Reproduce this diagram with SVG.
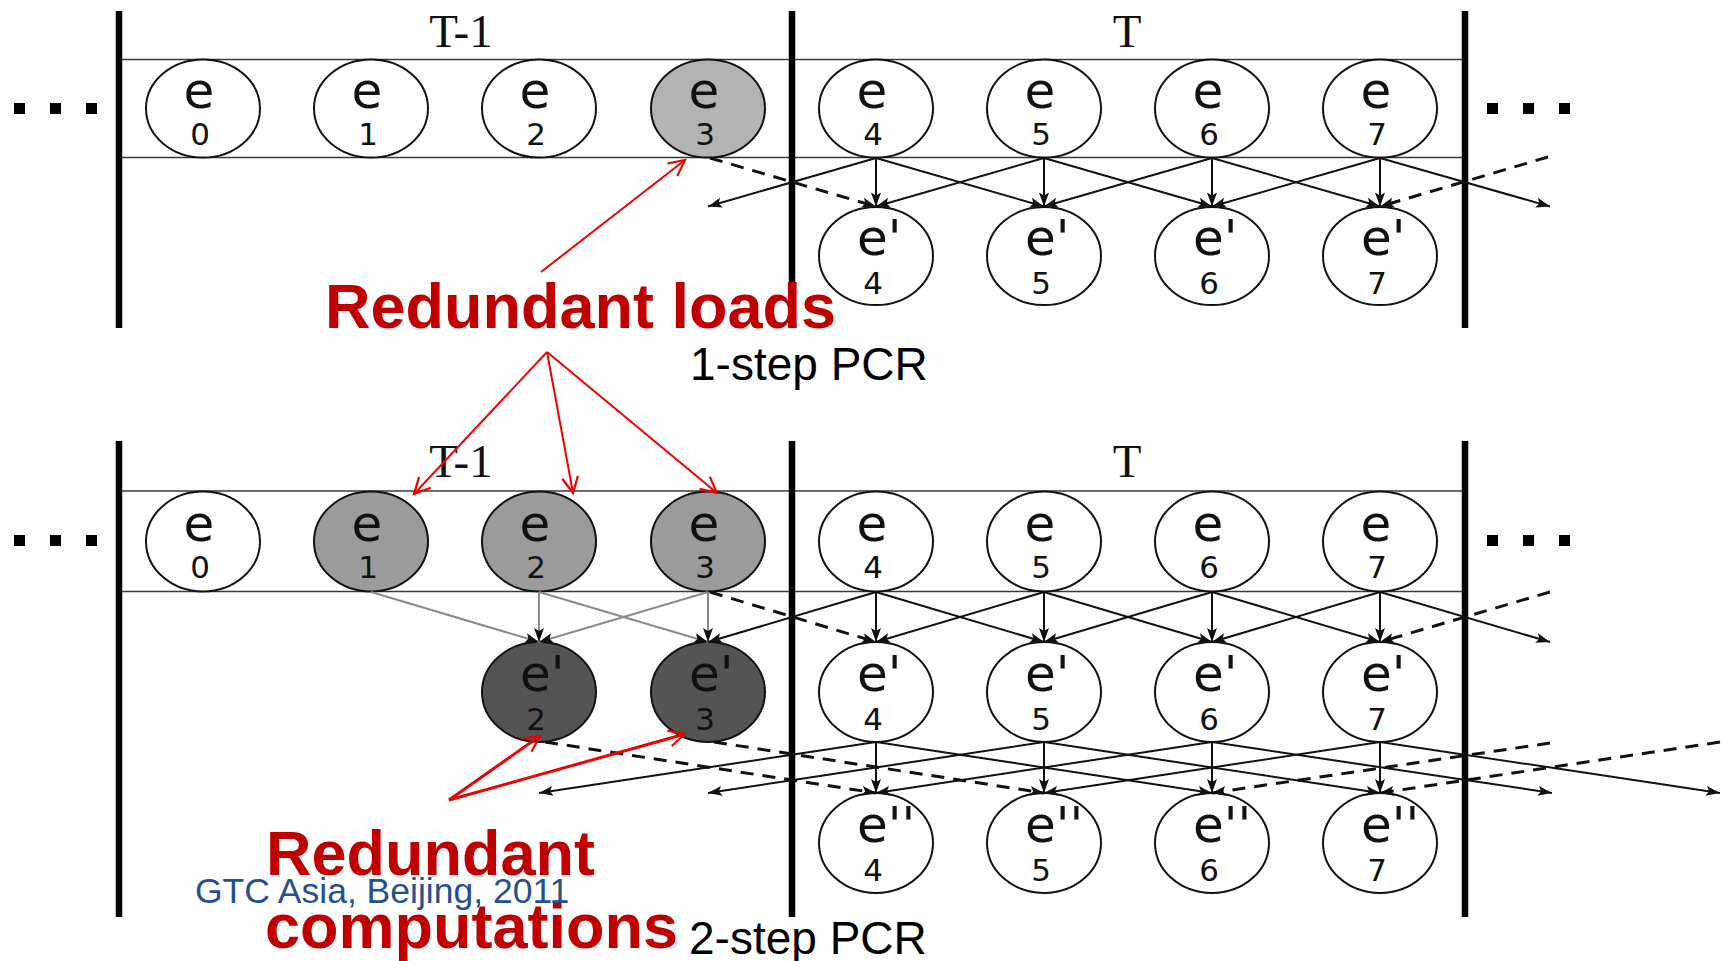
<svg xmlns="http://www.w3.org/2000/svg" width="1725" height="961" viewBox="0 0 1725 961">
  <defs>
    <style>
      .bar { stroke: #000; stroke-width: 6.5; }
      .rail { stroke: #3a3a3a; stroke-width: 1.6; }
      .node { stroke: #111; stroke-width: 2; fill: #fff; }
      .hot { fill: #b3b3b3; }
      .mid { fill: #9b9b9b; }
      .dark { fill: #545454; }
      .e { font-family: "DejaVu Sans", "Noto Sans", sans-serif; font-size: 50px; fill: #111; }
      .d { font-family: "DejaVu Sans", "Noto Sans", sans-serif; font-size: 31px; fill: #111; text-anchor: middle; }
      .hdr { font-family: "Liberation Serif", "DejaVu Serif", serif; font-size: 47px; fill: #111; text-anchor: middle; }
      .dots { fill: #000; }
      .solid { stroke: #111; stroke-width: 2; fill: none; marker-end: url(#tri); }
      .gray { stroke: #8a8a8a; stroke-width: 2; fill: none; marker-end: url(#tri); }
      .dash { stroke: #111; stroke-width: 3; stroke-dasharray: 13 9; fill: none; marker-end: url(#tri); }
      .red { stroke: #f00000; stroke-width: 2; fill: none; marker-end: url(#open); }
      .red3 { stroke: #f00000; stroke-width: 3; fill: none; marker-end: url(#open); }
      .big { font-family: "Liberation Sans", Arial, sans-serif; font-weight: bold; font-size: 63px; fill: #c00000; }
      .cap { font-family: "Liberation Sans", Arial, sans-serif; font-size: 46px; fill: #000; }
      .foot { font-family: "Liberation Sans", Arial, sans-serif; font-size: 35.5px; fill: #24508c; }
    </style>
    <marker id="tri" markerUnits="userSpaceOnUse" markerWidth="15" markerHeight="11" refX="14" refY="5" orient="auto" overflow="visible">
      <path d="M0,0 L14,5 L0,10 L3,5 z" fill="#111"/>
    </marker>
    <marker id="open" markerUnits="userSpaceOnUse" markerWidth="18" markerHeight="16" refX="16" refY="8" orient="auto" overflow="visible">
      <path d="M0,0 L16,8 L0,16" fill="none" stroke="#f00000" stroke-width="2.2"/>
    </marker>
  </defs>

  <rect width="1725" height="961" fill="#fff"/>

  <!-- ================= 1-step PCR panel ================= -->
  <g id="frame-1step">
    <line class="rail" x1="119" y1="59.5" x2="1465" y2="59.5"/>
    <line class="rail" x1="119" y1="157.5" x2="1465" y2="157.5"/>
    <line class="bar" x1="119" y1="11" x2="119" y2="328"/>
    <line class="bar" x1="792" y1="11" x2="792" y2="328"/>
    <line class="bar" x1="1465" y1="11" x2="1465" y2="328"/>
    <text class="hdr" x="461" y="47">T-1</text>
    <text class="hdr" x="1127" y="47">T</text>
    <g class="dots">
      <rect x="14" y="103" width="11" height="11"/>
      <rect x="50" y="103" width="11" height="11"/>
      <rect x="86" y="103" width="11" height="11"/>
      <rect x="1487" y="103" width="11" height="11"/>
      <rect x="1523" y="103" width="11" height="11"/>
      <rect x="1559" y="103" width="11" height="11"/>
    </g>
  </g>

  <g id="n1-e0"><ellipse class="node" cx="203" cy="108.5" rx="57" ry="49"/><text class="e" x="199" y="107.5" text-anchor="middle">e</text><text class="d" x="200" y="145">0</text></g>
  <g id="n1-e1"><ellipse class="node" cx="371" cy="108.5" rx="57" ry="49"/><text class="e" x="367" y="107.5" text-anchor="middle">e</text><text class="d" x="368" y="145">1</text></g>
  <g id="n1-e2"><ellipse class="node" cx="539" cy="108.5" rx="57" ry="49"/><text class="e" x="535" y="107.5" text-anchor="middle">e</text><text class="d" x="536" y="145">2</text></g>
  <g id="n1-e3"><ellipse class="node hot" cx="708" cy="108.5" rx="57" ry="49"/><text class="e" x="704" y="107.5" text-anchor="middle">e</text><text class="d" x="705" y="145">3</text></g>
  <g id="n1-e4"><ellipse class="node" cx="876" cy="108.5" rx="57" ry="49"/><text class="e" x="872" y="107.5" text-anchor="middle">e</text><text class="d" x="873" y="145">4</text></g>
  <g id="n1-e5"><ellipse class="node" cx="1044" cy="108.5" rx="57" ry="49"/><text class="e" x="1040" y="107.5" text-anchor="middle">e</text><text class="d" x="1041" y="145">5</text></g>
  <g id="n1-e6"><ellipse class="node" cx="1212" cy="108.5" rx="57" ry="49"/><text class="e" x="1208" y="107.5" text-anchor="middle">e</text><text class="d" x="1209" y="145">6</text></g>
  <g id="n1-e7"><ellipse class="node" cx="1380" cy="108.5" rx="57" ry="49"/><text class="e" x="1376" y="107.5" text-anchor="middle">e</text><text class="d" x="1377" y="145">7</text></g>

  <g id="n1-p4"><ellipse class="node" cx="876" cy="256" rx="57" ry="49"/><text class="e" x="857" y="255">e'</text><text class="d" x="873" y="294">4</text></g>
  <g id="n1-p5"><ellipse class="node" cx="1044" cy="256" rx="57" ry="49"/><text class="e" x="1025" y="255">e'</text><text class="d" x="1041" y="294">5</text></g>
  <g id="n1-p6"><ellipse class="node" cx="1212" cy="256" rx="57" ry="49"/><text class="e" x="1193" y="255">e'</text><text class="d" x="1209" y="294">6</text></g>
  <g id="n1-p7"><ellipse class="node" cx="1380" cy="256" rx="57" ry="49"/><text class="e" x="1361" y="255">e'</text><text class="d" x="1377" y="294">7</text></g>

  <!-- ================= 2-step PCR panel ================= -->
  <g id="frame-2step">
    <line class="rail" x1="119" y1="491" x2="1465" y2="491"/>
    <line class="rail" x1="119" y1="591.5" x2="1465" y2="591.5"/>
    <line class="bar" x1="119" y1="441" x2="119" y2="917"/>
    <line class="bar" x1="792" y1="441" x2="792" y2="917"/>
    <line class="bar" x1="1465" y1="441" x2="1465" y2="917"/>
    <text class="hdr" x="461" y="477">T-1</text>
    <text class="hdr" x="1127" y="477">T</text>
    <g class="dots">
      <rect x="14" y="535" width="11" height="11"/>
      <rect x="50" y="535" width="11" height="11"/>
      <rect x="86" y="535" width="11" height="11"/>
      <rect x="1487" y="535" width="11" height="11"/>
      <rect x="1523" y="535" width="11" height="11"/>
      <rect x="1559" y="535" width="11" height="11"/>
    </g>
  </g>

  <g id="n2-e0"><ellipse class="node" cx="203" cy="541.5" rx="57" ry="50"/><text class="e" x="199" y="540.5" text-anchor="middle">e</text><text class="d" x="200" y="578">0</text></g>
  <g id="n2-e1"><ellipse class="node mid" cx="371" cy="541.5" rx="57" ry="50"/><text class="e" x="367" y="540.5" text-anchor="middle">e</text><text class="d" x="368" y="578">1</text></g>
  <g id="n2-e2"><ellipse class="node mid" cx="539" cy="541.5" rx="57" ry="50"/><text class="e" x="535" y="540.5" text-anchor="middle">e</text><text class="d" x="536" y="578">2</text></g>
  <g id="n2-e3"><ellipse class="node mid" cx="708" cy="541.5" rx="57" ry="50"/><text class="e" x="704" y="540.5" text-anchor="middle">e</text><text class="d" x="705" y="578">3</text></g>
  <g id="n2-e4"><ellipse class="node" cx="876" cy="541.5" rx="57" ry="50"/><text class="e" x="872" y="540.5" text-anchor="middle">e</text><text class="d" x="873" y="578">4</text></g>
  <g id="n2-e5"><ellipse class="node" cx="1044" cy="541.5" rx="57" ry="50"/><text class="e" x="1040" y="540.5" text-anchor="middle">e</text><text class="d" x="1041" y="578">5</text></g>
  <g id="n2-e6"><ellipse class="node" cx="1212" cy="541.5" rx="57" ry="50"/><text class="e" x="1208" y="540.5" text-anchor="middle">e</text><text class="d" x="1209" y="578">6</text></g>
  <g id="n2-e7"><ellipse class="node" cx="1380" cy="541.5" rx="57" ry="50"/><text class="e" x="1376" y="540.5" text-anchor="middle">e</text><text class="d" x="1377" y="578">7</text></g>

  <g id="n2-p2"><ellipse class="node dark" cx="539" cy="692" rx="57" ry="50"/><text class="e" x="520" y="691">e'</text><text class="d" x="536" y="730">2</text></g>
  <g id="n2-p3"><ellipse class="node dark" cx="708" cy="692" rx="57" ry="50"/><text class="e" x="689" y="691">e'</text><text class="d" x="705" y="730">3</text></g>
  <g id="n2-p4"><ellipse class="node" cx="876" cy="692" rx="57" ry="50"/><text class="e" x="857" y="691">e'</text><text class="d" x="873" y="730">4</text></g>
  <g id="n2-p5"><ellipse class="node" cx="1044" cy="692" rx="57" ry="50"/><text class="e" x="1025" y="691">e'</text><text class="d" x="1041" y="730">5</text></g>
  <g id="n2-p6"><ellipse class="node" cx="1212" cy="692" rx="57" ry="50"/><text class="e" x="1193" y="691">e'</text><text class="d" x="1209" y="730">6</text></g>
  <g id="n2-p7"><ellipse class="node" cx="1380" cy="692" rx="57" ry="50"/><text class="e" x="1361" y="691">e'</text><text class="d" x="1377" y="730">7</text></g>

  <g id="n2-q4"><ellipse class="node" cx="876" cy="843" rx="57" ry="50"/><text class="e" x="857" y="842">e''</text><text class="d" x="873" y="881">4</text></g>
  <g id="n2-q5"><ellipse class="node" cx="1044" cy="843" rx="57" ry="50"/><text class="e" x="1025" y="842">e''</text><text class="d" x="1041" y="881">5</text></g>
  <g id="n2-q6"><ellipse class="node" cx="1212" cy="843" rx="57" ry="50"/><text class="e" x="1193" y="842">e''</text><text class="d" x="1209" y="881">6</text></g>
  <g id="n2-q7"><ellipse class="node" cx="1380" cy="843" rx="57" ry="50"/><text class="e" x="1361" y="842">e''</text><text class="d" x="1377" y="881">7</text></g>

  <!-- ================= connectors ================= -->
  <g id="connectors">
    <!-- 1-step: e -> e' -->
    <line class="solid" x1="876" y1="158" x2="708" y2="206.5"/>
    <line class="solid" x1="876" y1="158" x2="876" y2="206.5"/>
    <line class="solid" x1="876" y1="158" x2="1044" y2="206.5"/>
    <line class="solid" x1="1044" y1="158" x2="876" y2="206.5"/>
    <line class="solid" x1="1044" y1="158" x2="1044" y2="206.5"/>
    <line class="solid" x1="1044" y1="158" x2="1212" y2="206.5"/>
    <line class="solid" x1="1212" y1="158" x2="1044" y2="206.5"/>
    <line class="solid" x1="1212" y1="158" x2="1212" y2="206.5"/>
    <line class="solid" x1="1212" y1="158" x2="1380" y2="206.5"/>
    <line class="solid" x1="1380" y1="158" x2="1212" y2="206.5"/>
    <line class="solid" x1="1380" y1="158" x2="1380" y2="206.5"/>
    <line class="solid" x1="1380" y1="158" x2="1550" y2="206.5"/>
    <line class="dash" x1="710" y1="158" x2="876" y2="206.5"/>
    <line class="dash" x1="1548" y1="157" x2="1380" y2="206.5"/>

    <!-- 2-step, first level: e -> e' -->
    <line class="gray" x1="371" y1="592" x2="539" y2="642"/>
    <line class="gray" x1="539" y1="592" x2="539" y2="642"/>
    <line class="gray" x1="539" y1="592" x2="708" y2="642"/>
    <line class="gray" x1="708" y1="592" x2="539" y2="642"/>
    <line class="gray" x1="708" y1="592" x2="708" y2="642"/>
    <line class="dash" x1="710" y1="592" x2="876" y2="642"/>
    <line class="solid" x1="876" y1="592" x2="708" y2="642"/>
    <line class="solid" x1="876" y1="592" x2="876" y2="642"/>
    <line class="solid" x1="876" y1="592" x2="1044" y2="642"/>
    <line class="solid" x1="1044" y1="592" x2="876" y2="642"/>
    <line class="solid" x1="1044" y1="592" x2="1044" y2="642"/>
    <line class="solid" x1="1044" y1="592" x2="1212" y2="642"/>
    <line class="solid" x1="1212" y1="592" x2="1044" y2="642"/>
    <line class="solid" x1="1212" y1="592" x2="1212" y2="642"/>
    <line class="solid" x1="1212" y1="592" x2="1380" y2="642"/>
    <line class="solid" x1="1380" y1="592" x2="1212" y2="642"/>
    <line class="solid" x1="1380" y1="592" x2="1380" y2="642"/>
    <line class="solid" x1="1380" y1="592" x2="1550" y2="642"/>
    <line class="dash" x1="1550" y1="592" x2="1380" y2="642"/>

    <!-- 2-step, second level: e' -> e'' (stride 2) -->
    <line class="dash" x1="545" y1="742" x2="876" y2="793"/>
    <line class="dash" x1="714" y1="742" x2="1044" y2="793"/>
    <line class="solid" x1="876" y1="742" x2="539" y2="793"/>
    <line class="solid" x1="876" y1="742" x2="876" y2="793"/>
    <line class="solid" x1="876" y1="742" x2="1212" y2="793"/>
    <line class="solid" x1="1044" y1="742" x2="708" y2="793"/>
    <line class="solid" x1="1044" y1="742" x2="1044" y2="793"/>
    <line class="solid" x1="1044" y1="742" x2="1380" y2="793"/>
    <line class="solid" x1="1212" y1="742" x2="876" y2="793"/>
    <line class="solid" x1="1212" y1="742" x2="1212" y2="793"/>
    <line class="solid" x1="1212" y1="742" x2="1552" y2="793"/>
    <line class="solid" x1="1380" y1="742" x2="1044" y2="793"/>
    <line class="solid" x1="1380" y1="742" x2="1380" y2="793"/>
    <line class="solid" x1="1380" y1="742" x2="1720" y2="793"/>
    <line class="dash" x1="1550" y1="743" x2="1212" y2="793"/>
    <line class="dash" x1="1720" y1="742" x2="1380" y2="793"/>
  </g>

  <!-- ================= annotations ================= -->
  <g id="callouts">
    <line class="red" x1="541" y1="272" x2="685" y2="160"/>
    <line class="red" x1="547" y1="352" x2="414" y2="494"/>
    <line class="red" x1="547" y1="352" x2="573" y2="493"/>
    <line class="red" x1="547" y1="352" x2="717" y2="493"/>
    <line class="red3" x1="449" y1="800" x2="540" y2="736"/>
    <line class="red3" x1="449" y1="800" x2="685" y2="734"/>
  </g>

  <text class="big" x="325" y="328">Redundant loads</text>
  <text class="cap" x="690" y="380">1-step PCR</text>
  <text class="big" x="266" y="875">Redundant</text>
  <text class="big" x="265" y="948">computations</text>
  <text class="cap" x="689" y="954">2-step PCR</text>
  <text class="foot" x="195" y="902.5">GTC Asia, Beijing, 2011</text>
</svg>
